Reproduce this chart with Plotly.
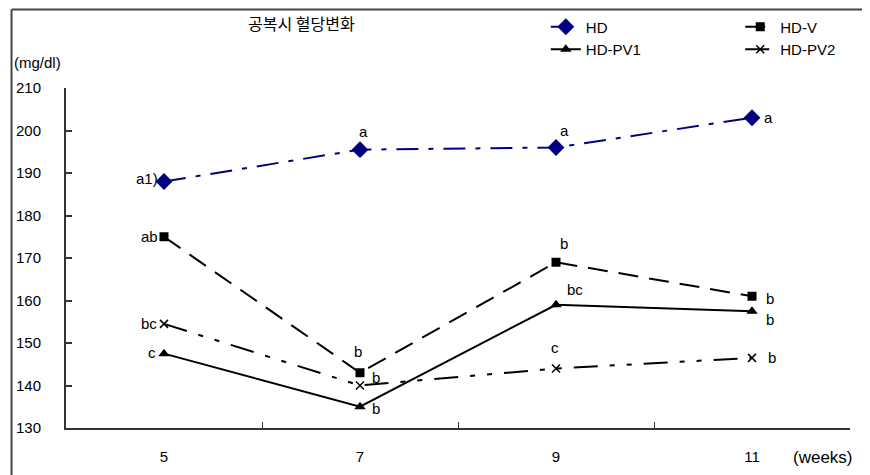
import plotly.graph_objects as go

# ---- data ----
weeks = ["5", "7", "9", "11"]
hd = [188, 195.5, 196, 203]
hd_v = [175, 143, 169, 161]
hd_pv1 = [147.5, 135, 159, 157.5]
hd_pv2 = [154.5, 140, 144, 146.5]

hd_lbl = ["a1)", "a", "a", "a"]
hd_v_lbl = ["ab", "b", "b", "b"]
hd_pv1_lbl = ["c", "b", "bc", "b"]
hd_pv2_lbl = ["bc", "b", "c", "b"]

y_ticks = [130, 140, 150, 160, 170, 180, 190, 200, 210]

title_text = "공복시 혈당변화"
y_unit = "(mg/dl)"
x_unit = "(weeks)"

FONT = "Liberation Sans, Arial, Noto Sans CJK KR"
KFONT = "Noto Sans CJK KR, Liberation Sans"

fig = go.Figure()

series = [
    ("HD", hd, "legend", dict(color="#000080", width=2, dash="22px,10px,5px,10px"),
     dict(symbol="diamond", size=13, color="#000080")),
    ("HD-V", hd_v, "legend2", dict(color="black", width=2, dash="20px,11px"),
     dict(symbol="square", size=9, color="black")),
    ("HD-PV1", hd_pv1, "legend", dict(color="black", width=2, dash="solid"),
     dict(symbol="triangle-up", size=10, color="black")),
    ("HD-PV2", hd_pv2, "legend2", dict(color="black", width=2, dash="24px,12px,5px,12px,5px,12px"),
     dict(symbol="x-thin-open", size=8, color="black", line=dict(width=1.5, color="black"))),
]
for name, vals, leg, line, marker in series:
    fig.add_trace(go.Scatter(x=weeks, y=vals, name=name, mode="lines+markers",
                             line=line, marker=marker, legend=leg))

# point labels (significance letters); category axis -> use category index
label_sets = [
    (hd, hd_lbl, [(-4, 3, "right"), (3, 18, "center"), (8, 17, "center"), (10, 0, "left")]),
    (hd_v, hd_v_lbl, [(-4, 0, "right"), (-2, 21, "center"), (8, 19, "center"), (12, -2, "left")]),
    (hd_pv1, hd_pv1_lbl, [(-6, 1, "right"), (16, -2, "center"), (19, 15, "center"), (12, -8, "left")]),
    (hd_pv2, hd_pv2_lbl, [(-5, 0, "right"), (16, 8, "center"), (-1, 21, "center"), (14, 0, "left")]),
]
annotations = []
for vals, labels, offs in label_sets:
    for i, (yv, lab, (dx, dy, anc)) in enumerate(zip(vals, labels, offs)):
        annotations.append(dict(x=i, y=yv, xref="x", yref="y", text=lab, showarrow=False,
                                xshift=dx, yshift=dy, xanchor=anc, yanchor="middle",
                                font=dict(family=FONT, size=15, color="black")))

annotations.append(dict(x=-0.069, y=1.075, xref="paper", yref="paper", text=y_unit,
                        showarrow=False, xanchor="left", yanchor="middle",
                        font=dict(family=FONT, size=15, color="black")))
annotations.append(dict(x=0.925, y=-0.088, xref="paper", yref="paper", text=x_unit,
                        showarrow=False, xanchor="left", yanchor="middle",
                        font=dict(family=FONT, size=17, color="black")))
annotations.append(dict(x=0.30, y=1.19, xref="paper", yref="paper", text=title_text,
                        showarrow=False, xanchor="center", yanchor="middle",
                        font=dict(family=KFONT, size=16, color="black")))

legend_common = dict(orientation="v", yanchor="top", xanchor="left",
                     itemwidth=30, bgcolor="rgba(0,0,0,0)",
                     font=dict(family=FONT, size=15, color="black"))

# page has an 8px body margin, so the figure is sized 862x467 and offset by 8px
fig.update_layout(
    width=862, height=467,
    margin=dict(l=58, r=20, t=80, b=47, autoexpand=False),
    paper_bgcolor="white", plot_bgcolor="white",
    font=dict(family=FONT, size=15, color="black"),
    showlegend=True,
    legend=dict(x=0.612, y=1.228, **legend_common),
    legend2=dict(x=0.86, y=1.228, **legend_common),
    xaxis=dict(type="category", range=[-0.5, 3.5], showgrid=False, zeroline=False,
               showline=True, linecolor="#333333", linewidth=2,
               ticks="inside", ticklen=6, tickwidth=1, tickcolor="#333333",
               tickson="boundaries", ticklabelstandoff=14, automargin=False,
               tickfont=dict(family=FONT, size=15, color="black")),
    yaxis=dict(range=[130, 210], tickvals=y_ticks, showgrid=False, zeroline=False,
               showline=True, linecolor="#333333", linewidth=2,
               ticks="inside", ticklen=6, tickwidth=1.5, tickcolor="#333333",
               ticklabelstandoff=20, automargin=False,
               tickfont=dict(family=FONT, size=15, color="black")),
    annotations=annotations,
    shapes=[
        dict(type="line", xref="paper", yref="paper", x0=-0.0695, x1=1.03, y0=1.231, y1=1.231,
             line=dict(color="#444444", width=2)),
        dict(type="line", xref="paper", yref="paper", x0=-0.0695, x1=-0.0695, y0=1.231, y1=-0.15,
             line=dict(color="#444444", width=2)),
        dict(type="line", xref="paper", yref="paper", x0=1.0225, x1=1.0225, y0=1.231, y1=-0.15,
             line=dict(color="#dddddd", width=1)),
    ],
)

fig.write_html("out.html")
